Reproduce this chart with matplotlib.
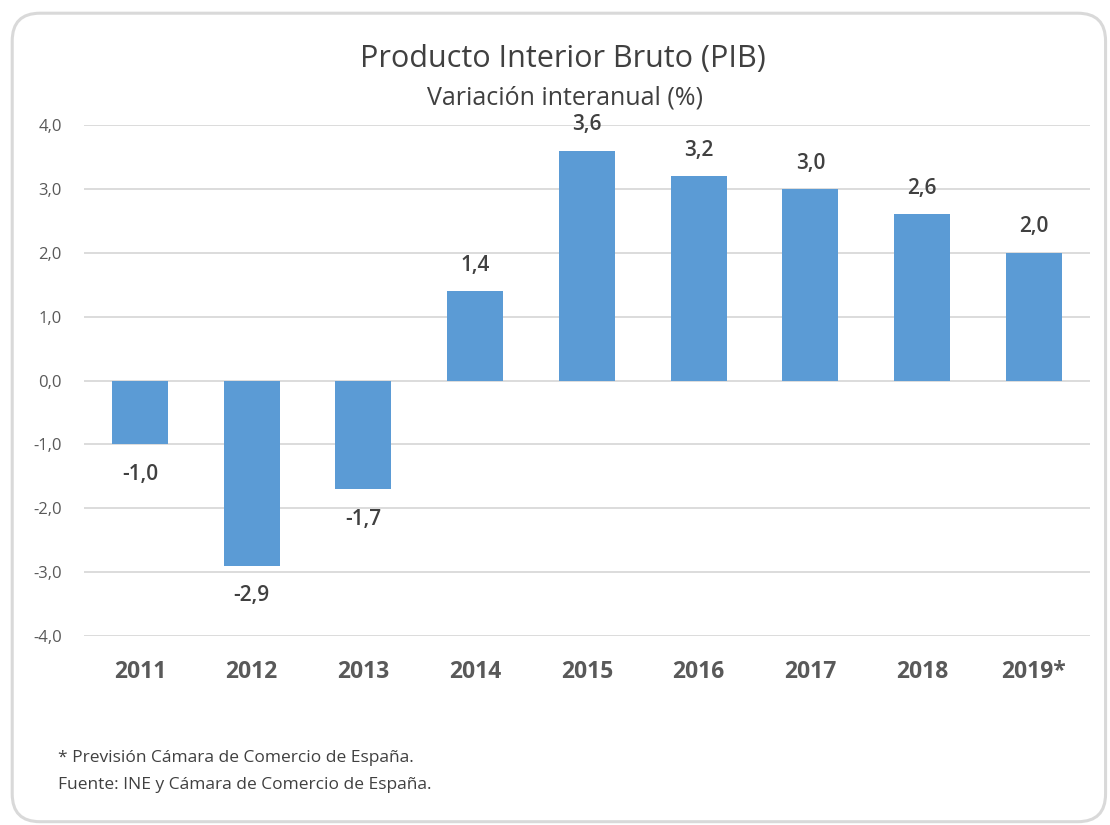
import matplotlib
matplotlib.use("Agg")
from matplotlib import pyplot as plt
from matplotlib.patches import FancyBboxPatch

years = ["2011", "2012", "2013", "2014", "2015", "2016", "2017", "2018", "2019*"]
pib = [-1.0, -2.9, -1.7, 1.4, 3.6, 3.2, 3.0, 2.6, 2.0]
yticks = [-4, -3, -2, -1, 0, 1, 2, 3, 4]

plt.rcParams['font.family'] = ['Open Sans', 'DejaVu Sans']

fig = plt.figure(figsize=(11.1, 8.25), dpi=100)

# rounded frame around the whole chart
frame = FancyBboxPatch((0.011, 0.004), 0.985, 0.98, boxstyle="round,pad=0,rounding_size=0.025",
                       transform=fig.transFigure, facecolor="none", edgecolor="#d9d9d9", linewidth=2.2,
                       mutation_aspect=1110 / 825, zorder=0)
fig.patches.append(frame)

ax = fig.add_axes([0.0757, 0.229, 0.906, 0.6195])
ax.set_facecolor("none")

x = range(len(years))
ax.bar(x, pib, width=0.5, color="#5b9bd5", zorder=3)

for i, v in enumerate(pib):
    label = f"{v:.1f}".replace(".", ",")
    if v >= 0:
        ax.annotate(label, (i, v), xytext=(0, 11), textcoords="offset points", ha="center", va="bottom",
                    fontsize=15, fontweight="semibold", color="#404040", zorder=4)
    else:
        ax.annotate(label, (i, v), xytext=(0, -14), textcoords="offset points", ha="center", va="top",
                    fontsize=15, fontweight="semibold", color="#404040", zorder=4)

ax.set_xlim(-0.5, len(years) - 0.5)
ax.set_ylim(-4, 4)
ax.set_yticks(yticks)
ax.set_yticklabels([f"{t:.1f}".replace(".", ",") for t in yticks], fontsize=12, color="#595959")
ax.set_xticks(list(x))
ax.set_xticklabels(years, fontsize=16.5, fontweight="bold", color="#595959")
ax.tick_params(axis="both", length=0)
ax.tick_params(axis="y", pad=16)
ax.tick_params(axis="x", pad=17)
ax.grid(axis="y", color="#d9d9d9", linewidth=1.3, zorder=0)
for s in ax.spines.values():
    s.set_visible(False)

fig.text(0.507, 0.929, "Producto Interior Bruto (PIB)", ha="center", va="center", fontsize=22,
         color="#404040")
fig.text(0.509, 0.881, "Variación interanual (%)", ha="center", va="center", fontsize=18, color="#404040")

fig.text(0.052, 0.081, "* Previsión Cámara de Comercio de España.", ha="left", va="center", fontsize=12.5,
         color="#404040")
fig.text(0.052, 0.049, "Fuente: INE y Cámara de Comercio de España.", ha="left", va="center", fontsize=12.5,
         color="#404040")

fig.savefig("out.png", dpi=100)
